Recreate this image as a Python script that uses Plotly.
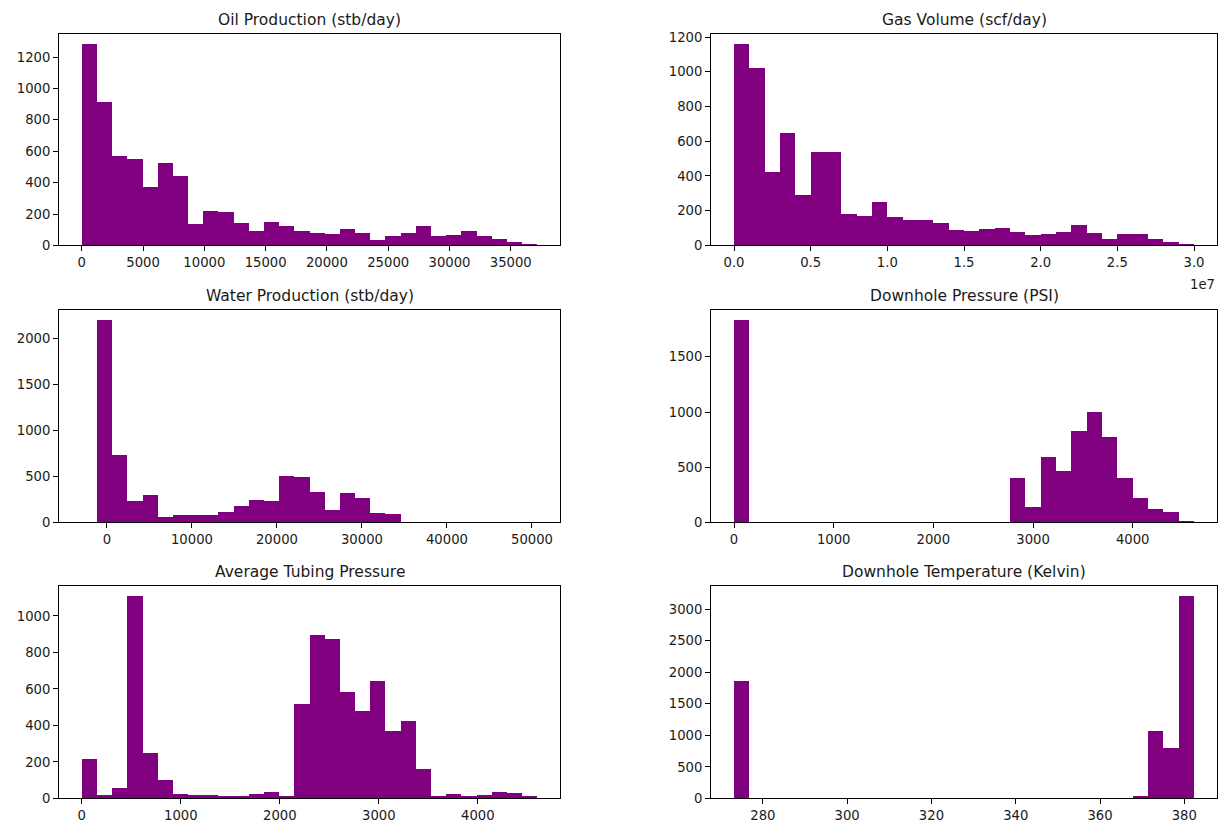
import numpy as np
import plotly.graph_objects as go

# ---- histogram data: 30 equal-width bins per variable ----
titles = [
    "Oil Production (stb/day)",
    "Gas Volume (scf/day)",
    "Water Production (stb/day)",
    "Downhole Pressure (PSI)",
    "Average Tubing Pressure",
    "Downhole Temperature (Kelvin)",
]

oil_range = (0, 37160)
oil_counts = [1285, 919, 574, 555, 378, 528, 447, 139, 222, 214,
              146, 96, 152, 127, 96, 83, 75, 108, 83, 37,
              62, 83, 125, 62, 69, 96, 62, 44, 27, 8]

gas_range = (0, 3.0e7)
gas_counts = [1162, 1025, 423, 649, 292, 540, 540, 184, 173, 250,
              166, 149, 149, 132, 92, 83, 98, 103, 81, 64,
              70, 81, 122, 75, 41, 70, 70, 41, 24, 6]

water_range = (-2960, 50620)
water_counts = [0, 2200, 741, 240, 304, 68, 89, 89, 89, 122,
                186, 250, 240, 508, 501, 336, 143, 326, 265, 107,
                97, 0, 0, 0, 0, 0, 0, 0, 0, 0]

dhp_range = (0, 4615)
dhp_counts = [1837, 0, 0, 0, 0, 0, 0, 0, 0, 0,
              0, 0, 0, 0, 0, 0, 0, 0, 409, 140,
              595, 466, 837, 1007, 774, 403, 224, 122, 96, 21]

atp_range = (0, 4600)
atp_counts = [213, 16, 54, 1106, 245, 97, 22, 16, 16, 11,
              5, 22, 32, 5, 517, 894, 872, 582, 474, 643,
              364, 420, 159, 11, 22, 5, 16, 32, 27, 11]

temp_range = (273.15, 382.3)
temp_counts = [1849, 0, 0, 0, 0, 0, 0, 0, 0, 0,
               0, 0, 0, 0, 0, 0, 0, 0, 0, 0,
               0, 0, 0, 0, 0, 0, 15, 1068, 797, 3203]

# tick settings
x_dticks = [5000, None, 10000, 1000, 1000, 20]
y_dticks = [200, 200, 500, 500, 200, 500]
gas_tickvals = [0, 0.5e7, 1.0e7, 1.5e7, 2.0e7, 2.5e7, 3.0e7]
gas_ticktext = ["0.0", "0.5", "1.0", "1.5", "2.0", "2.5", "3.0"]

panels = [
    (oil_range, oil_counts),
    (gas_range, gas_counts),
    (water_range, water_counts),
    (dhp_range, dhp_counts),
    (atp_range, atp_counts),
    (temp_range, temp_counts),
]

W, H = 1225, 832
PURPLE = "#800080"
FONT = "DejaVu Sans"
TXT = "#1a1a1a"

# axes boxes in pixels: (left, right) per column, (top, bottom) per row
col_px = [(59, 560), (711, 1217)]
row_px = [(30, 245), (310, 526), (591, 806)]

fig = go.Figure()
annotations = []

for i, ((lo, hi), counts) in enumerate(panels):
    r, c = divmod(i, 2)
    n = i + 1
    xa = "x" if n == 1 else f"x{n}"
    ya = "y" if n == 1 else f"y{n}"

    edges = np.linspace(lo, hi, len(counts) + 1)
    centers = (edges[:-1] + edges[1:]) / 2
    width = edges[1] - edges[0]

    fig.add_trace(go.Bar(
        x=centers, y=counts, width=width,
        marker=dict(color=PURPLE, line=dict(width=0)),
        xaxis=xa, yaxis=ya, showlegend=False, hoverinfo="x+y",
    ))

    span = hi - lo
    xr = [lo - 0.05 * span, hi + 0.05 * span]
    yr = [0, 1.05 * max(counts)]

    x0, x1 = col_px[c]
    t, b = row_px[r]
    common = dict(
        showline=True, mirror=True, linecolor="black", linewidth=1,
        ticks="outside", ticklen=5, tickwidth=1, tickcolor="black",
        showgrid=False, zeroline=False,
        tickfont=dict(family=FONT, size=13.2, color=TXT),
        tickformat="d",
    )
    xaxis = dict(common, domain=[x0 / W, x1 / W], range=xr,
                 anchor=ya)
    if i == 1:
        xaxis.update(tickmode="array", tickvals=gas_tickvals,
                     ticktext=gas_ticktext)
    else:
        xaxis.update(tick0=0, dtick=x_dticks[i])
    yaxis = dict(common, domain=[1 - b / H, 1 - t / H], range=yr,
                 anchor=xa, tick0=0, dtick=y_dticks[i])

    key = "" if n == 1 else str(n)
    fig.layout["xaxis" + key] = xaxis
    fig.layout["yaxis" + key] = yaxis

    annotations.append(dict(
        text=titles[i], xref=f"{xa} domain", yref=f"{ya} domain",
        x=0.5, y=1, xanchor="center", yanchor="bottom", yshift=3,
        showarrow=False, font=dict(family=FONT, size=15.5, color=TXT),
    ))

# scale factor label for the gas axis
annotations.append(dict(
    text="1e7", xref="x2 domain", yref="y2 domain",
    x=1, y=0, xanchor="right", yanchor="top", yshift=-30,
    showarrow=False, font=dict(family=FONT, size=13.2, color=TXT),
))

fig.update_layout(
    width=W, height=H,
    margin=dict(l=0, r=0, t=0, b=0),
    paper_bgcolor="white", plot_bgcolor="white",
    bargap=0, barmode="overlay",
    annotations=annotations,
    font=dict(family=FONT, color=TXT),
)

fig.write_html("out.html")
